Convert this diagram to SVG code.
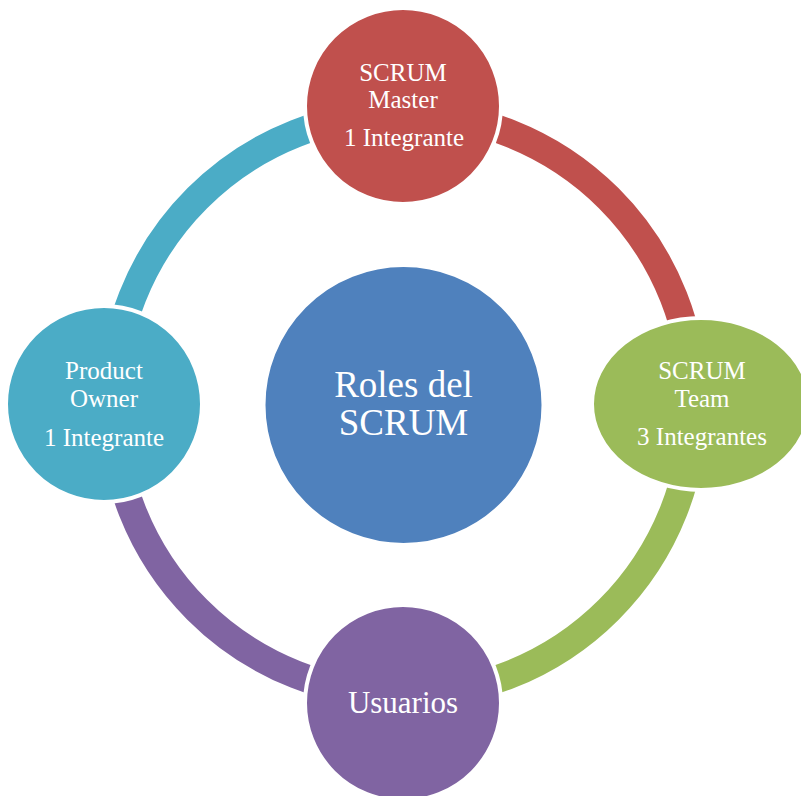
<svg xmlns="http://www.w3.org/2000/svg" width="801" height="796" viewBox="0 0 801 796">
<style>
.arc{fill:none;stroke-width:28}
.node{stroke:#fff;stroke-width:4}
text{font-family:"Liberation Serif","Times New Roman",serif;fill:#fff;text-anchor:middle}
.s{font-size:25px}
</style>
<rect width="801" height="796" fill="#fff"/>
<g id="connectors">
<path class="arc" stroke="#C0504D" d="M403 113 A291 291 0 0 1 694 404"/>
<path class="arc" stroke="#9BBB59" d="M694 404 A291 291 0 0 1 403 695"/>
<path class="arc" stroke="#8064A2" d="M403 695 A291 291 0 0 1 112 404"/>
<path class="arc" stroke="#4BACC6" d="M112 404 A291 291 0 0 1 403 113"/>
</g>
<g id="center">
<circle class="node" cx="403.5" cy="405" r="140" fill="#4F81BD"/>
<text x="403.5" y="397" font-size="37">Roles del</text>
<text x="403.5" y="435" font-size="37">SCRUM</text>
</g>
<g id="scrum-master">
<circle class="node" cx="403" cy="106" r="98" fill="#C0504D"/>
<text class="s" x="403" y="81">SCRUM</text>
<text class="s" x="403" y="108">Master</text>
<text class="s" x="404" y="146">1 Integrante</text>
</g>
<g id="scrum-team">
<ellipse class="node" cx="701" cy="404" rx="109" ry="86" fill="#9BBB59"/>
<text class="s" x="702" y="379">SCRUM</text>
<text class="s" x="702" y="407">Team</text>
<text class="s" x="702" y="445">3 Integrantes</text>
</g>
<g id="usuarios">
<circle class="node" cx="403" cy="703" r="98" fill="#8064A2"/>
<text x="403" y="713" font-size="31">Usuarios</text>
</g>
<g id="product-owner">
<circle class="node" cx="104" cy="404" r="98" fill="#4BACC6"/>
<text class="s" x="104" y="379">Product</text>
<text class="s" x="104" y="407">Owner</text>
<text class="s" x="104" y="446">1 Integrante</text>
</g>
</svg>
